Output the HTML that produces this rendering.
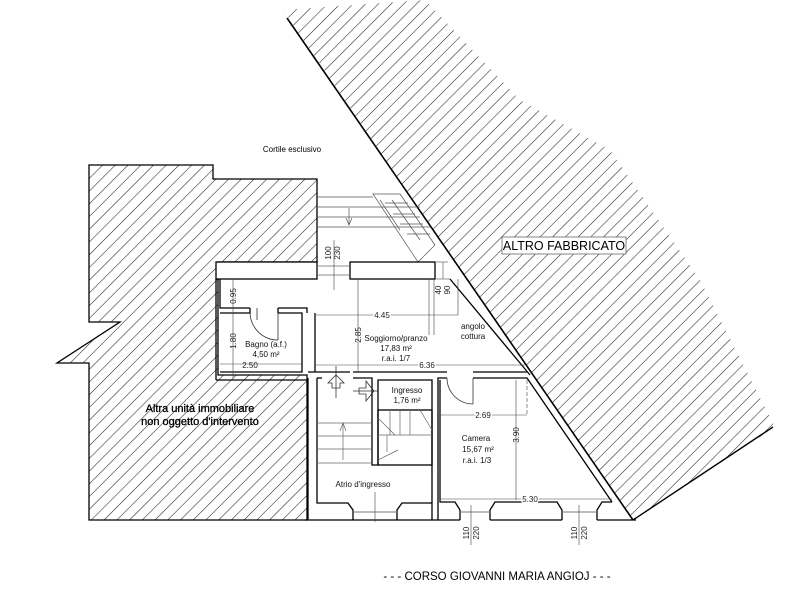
<!DOCTYPE html>
<html><head><meta charset="utf-8"><style>
html,body{margin:0;padding:0;background:#fff;}
svg{display:block;font-family:"Liberation Sans",Arial,sans-serif;}
</style></head><body>
<svg width="800" height="600" viewBox="0 0 800 600" xmlns="http://www.w3.org/2000/svg">
<defs>
<pattern id="h" width="9" height="9" patternUnits="userSpaceOnUse" patternTransform="rotate(45)">
<line x1="0" y1="0" x2="0" y2="9" stroke="#222" stroke-width="1.1"/>
</pattern>
</defs>
<rect width="800" height="600" fill="#fff"/>
<polygon points="283,10 425,0 520,100 610,150 700,280 775,427 633,520" fill="url(#h)"/>
<line x1="287" y1="18" x2="633" y2="520" stroke="#000" stroke-width="1.6"/>
<line x1="633" y1="520" x2="773" y2="427" stroke="#000" stroke-width="1.4"/>
<rect x="502" y="237" width="124" height="17" fill="#fff" stroke="#666" stroke-width="0.8"/>
<text x="564" y="250" font-size="12.5" text-anchor="middle">ALTRO FABBRICATO</text>

<polygon points="89,165 213,165 213,179 317,179 317,262 218,262 218,375 307,375 307,520 89,520 89,363 57,363 120,322 89,322" fill="url(#h)" stroke="#000" stroke-width="1.3"/>
<rect x="143" y="401" width="116" height="30" fill="#fff" opacity="0"/>
<text x="200" y="412" font-size="11" text-anchor="middle" stroke="#000" stroke-width="0.3">Altra unità immobiliare</text>
<text x="200" y="425" font-size="11" text-anchor="middle" stroke="#000" stroke-width="0.3">non oggetto d'intervento</text>

<text x="292" y="152" font-size="8" text-anchor="middle">Cortile esclusivo</text>

<g stroke="#555" stroke-width="0.7" fill="none">
<line x1="317" y1="207" x2="420" y2="207"/>
<line x1="317" y1="217" x2="420" y2="217"/>
<line x1="317" y1="227" x2="430" y2="227"/>
<line x1="317" y1="197" x2="373" y2="197"/>
<polygon points="373,194 400,194 435,245 418,262"/>
<line x1="385" y1="203" x2="408" y2="203"/>
<line x1="393" y1="214" x2="415" y2="214"/>
<line x1="400" y1="224" x2="423" y2="224"/>
<line x1="407" y1="234" x2="430" y2="234"/>
<line x1="380" y1="200" x2="400" y2="230"/>
<line x1="349" y1="208" x2="349" y2="225"/>
<polyline points="346,218 349,225 352,218"/>
<line x1="392" y1="200" x2="420" y2="240"/>
</g>

<g fill="#fff" stroke="#000" stroke-width="1.3">
<rect x="216" y="262" width="101" height="17"/>
<rect x="350" y="262" width="85" height="17"/>
</g>
<g stroke="#666" stroke-width="0.7">
<line x1="317" y1="266" x2="350" y2="266"/>
<line x1="317" y1="275" x2="350" y2="275"/>
<line x1="435" y1="262" x2="448" y2="262"/>
<line x1="435" y1="279" x2="450" y2="279"/>
<line x1="443" y1="262" x2="443" y2="279"/>
</g>
<g fill="none" stroke="#000" stroke-width="1.3">
<polyline points="216,279 216,380"/>
<polyline points="220,279 220,308 250,308"/>
<polyline points="278,308 307,308 307,313"/>
<polyline points="220,313 250,313 250,308"/>
<polyline points="278,313 302,313 302,372 220,372"/>
<polyline points="278,308 278,313"/>
<polyline points="216,380 307,380"/>
<line x1="315" y1="313" x2="315" y2="372"/>
<line x1="450" y1="279" x2="530" y2="375"/>
<polyline points="308,372 350,372"/>
<polyline points="353,372 447,372"/>
<polyline points="473,372 527,372"/>
<polyline points="317,378 322,378"/>
<polyline points="353,378 372,378 372,465 378,465 378,380 432,380 432,520"/>
<polyline points="438,520 438,378 447,378"/>
<polyline points="473,378 527,378 612,502"/>
<polyline points="440,380 440,502 455,502 460,510 460,520"/>
<polyline points="490,520 490,510 495,502 557,502 562,510 562,520"/>
<polyline points="597,520 597,510 602,502 612,502"/>
<line x1="308" y1="378" x2="308" y2="520"/>
<polyline points="317,378 317,503 348,503 353,510 353,520"/>
<polyline points="397,520 397,510 402,503 432,503"/>
<line x1="305" y1="520" x2="460" y2="520"/>
<line x1="490" y1="520" x2="562" y2="520"/>
<line x1="597" y1="520" x2="636" y2="520"/>
<rect x="378" y="410" width="54" height="55"/>
</g>
<g stroke="#777" stroke-width="1">
<line x1="460" y1="512" x2="490" y2="512"/>
<line x1="562" y1="512" x2="597" y2="512"/>
<line x1="353" y1="512" x2="397" y2="512"/>
</g>
<g stroke="#666" stroke-width="0.7" fill="none">
<line x1="317" y1="423" x2="372" y2="423"/>
<line x1="317" y1="436" x2="372" y2="436"/>
<line x1="317" y1="449" x2="372" y2="449"/>
<line x1="317" y1="463" x2="372" y2="463"/>
<line x1="343" y1="423" x2="343" y2="460"/>
<polyline points="340,431 343,423 346,431"/>
<line x1="378" y1="435" x2="432" y2="435"/>
<line x1="390" y1="410" x2="390" y2="435"/>
<line x1="400" y1="410" x2="400" y2="435"/>
<line x1="410" y1="410" x2="410" y2="435"/>
<line x1="420" y1="410" x2="432" y2="430"/>
<line x1="378" y1="418" x2="395" y2="435"/>
<line x1="378" y1="460" x2="398" y2="450"/>
<line x1="387" y1="435" x2="387" y2="452"/>
</g>
<g fill="none" stroke="#333" stroke-width="0.8">
<line x1="257" y1="308" x2="257" y2="320"/>
<path d="M250,313 A28,28 0 0 0 278,340"/>
<line x1="278" y1="313" x2="278" y2="340"/>
<path d="M447,378 A26,26 0 0 0 473,404"/>
<line x1="473" y1="378" x2="473" y2="404"/>
<polygon points="328,383 336,375 344,383 340,383 340,388 332,388 332,383"/>
<polygon points="359,388 366,388 366,381 374,391 366,401 366,394 359,394"/>
<line x1="336" y1="366" x2="336" y2="398"/>
<line x1="353" y1="391" x2="378" y2="391"/>
</g>
<g stroke="#444" stroke-width="0.6" fill="none">
<line x1="233" y1="279" x2="233" y2="378"/>
<line x1="220" y1="364" x2="302" y2="364"/>
<line x1="315" y1="315" x2="458" y2="315"/>
<line x1="358" y1="279" x2="358" y2="372"/>
<line x1="315" y1="365" x2="525" y2="365"/>
<line x1="334" y1="240" x2="334" y2="290"/>
<line x1="429" y1="279" x2="429" y2="335"/>
<line x1="434" y1="279" x2="434" y2="335"/>
<line x1="458" y1="279" x2="458" y2="315"/>
<line x1="440" y1="415" x2="527" y2="415"/>
<line x1="516" y1="380" x2="516" y2="500"/>
<line x1="527" y1="380" x2="527" y2="415" stroke-dasharray="4,2"/>
<line x1="440" y1="499" x2="612" y2="499"/>
<line x1="471" y1="505" x2="471" y2="545"/>
<line x1="579" y1="505" x2="579" y2="545"/>
<line x1="375" y1="492" x2="375" y2="522"/>
</g>
<g font-size="8" fill="#222">
<text x="250" y="368" text-anchor="middle">2.50</text>
<text x="382" y="318" text-anchor="middle" style="paint-order:stroke" stroke="#fff" stroke-width="3">4.45</text>
<text x="427" y="368" text-anchor="middle" style="paint-order:stroke" stroke="#fff" stroke-width="3">6.36</text>
<text x="483" y="418" text-anchor="middle" style="paint-order:stroke" stroke="#fff" stroke-width="3">2.69</text>
<text x="530" y="502" text-anchor="middle" style="paint-order:stroke" stroke="#fff" stroke-width="3">5.30</text>
<text transform="translate(236,296) rotate(-90)" text-anchor="middle">0.95</text>
<text transform="translate(236,341) rotate(-90)" text-anchor="middle">1.80</text>
<text transform="translate(361,335) rotate(-90)" text-anchor="middle">2.85</text>
<text transform="translate(519,435) rotate(-90)" text-anchor="middle">3.90</text>
<text transform="translate(331,253) rotate(-90)" text-anchor="middle">100</text>
<text transform="translate(340,253) rotate(-90)" text-anchor="middle">230</text>
<text transform="translate(441,290) rotate(-90)" text-anchor="middle">40</text>
<text transform="translate(450,290) rotate(-90)" text-anchor="middle">90</text>
<text transform="translate(469,533) rotate(-90)" text-anchor="middle">110</text>
<text transform="translate(479,533) rotate(-90)" text-anchor="middle">220</text>
<text transform="translate(577,533) rotate(-90)" text-anchor="middle">110</text>
<text transform="translate(587,533) rotate(-90)" text-anchor="middle">220</text>
</g>
<g font-size="8" fill="#111" text-anchor="middle">
<text x="266" y="347">Bagno (a.f.)</text>
<text x="266" y="357">4,50 m²</text>
<text x="396" y="341">Soggiorno/pranzo</text>
<text x="396" y="351">17,83 m²</text>
<text x="396" y="361">r.a.i. 1/7</text>
<text x="473" y="329">angolo</text>
<text x="473" y="339">cottura</text>
<text x="407" y="393">Ingresso</text>
<text x="407" y="403">1,76 m²</text>
<text x="476" y="441">Camera</text>
<text x="478" y="452">15,67 m²</text>
<text x="477" y="463">r.a.i. 1/3</text>
<text x="363" y="487">Atrio d'ingresso</text>
</g>
<text x="497" y="580" font-size="11.5" text-anchor="middle">- - -   CORSO GIOVANNI MARIA ANGIOJ   - - -</text>
</svg>
</body></html>
